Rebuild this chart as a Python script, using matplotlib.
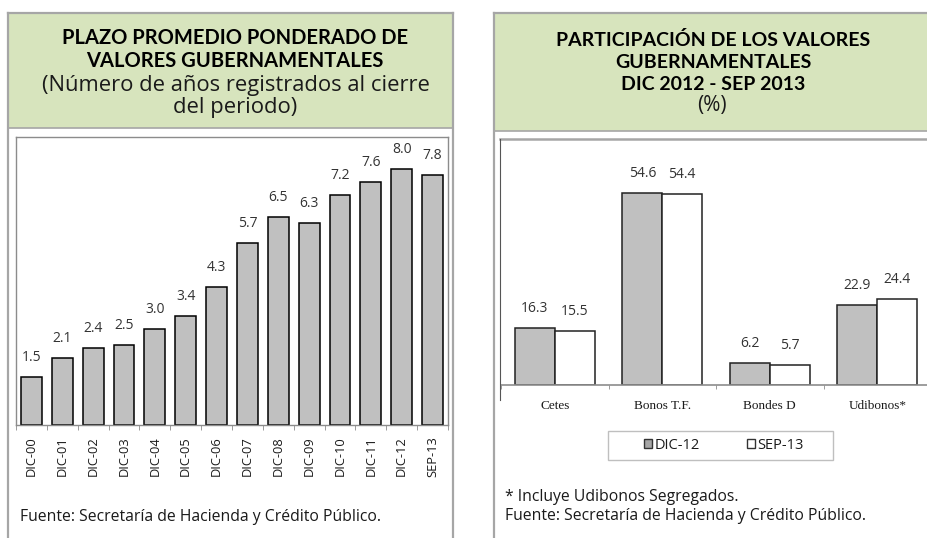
import matplotlib
matplotlib.use("Agg")
import matplotlib.pyplot as plt
from matplotlib.lines import Line2D
from matplotlib.patches import Rectangle, Patch
import numpy as np

# ---------------- data ----------------
periods = ["DIC-00", "DIC-01", "DIC-02", "DIC-03", "DIC-04", "DIC-05", "DIC-06",
           "DIC-07", "DIC-08", "DIC-09", "DIC-10", "DIC-11", "DIC-12", "SEP-13"]
plazo = [1.5, 2.1, 2.4, 2.5, 3.0, 3.4, 4.3, 5.7, 6.5, 6.3, 7.2, 7.6, 8.0, 7.8]

instrumentos = ["Cetes", "Bonos T.F.", "Bondes D", "Udibonos*"]
dic12 = [16.3, 54.6, 6.2, 22.9]
sep13 = [15.5, 54.4, 5.7, 24.4]
series_names = ["DIC-12", "SEP-13"]

# ---------------- figure ----------------
W, H = 927, 538
fig = plt.figure(figsize=(W / 100, H / 100), dpi=100)
fig.patch.set_facecolor("white")

def X(px):
    return px / W

def Y(py):
    return 1 - py / H

GREEN = "#D7E4BD"
BORDER = "#A6A6A6"
FRAME = "#8C8C8C"
TXT = "#1a1a1a"
BOLD = ["Lato", "DejaVu Sans"]
SANS = ["Open Sans", "DejaVu Sans"]

def hline(x0, x1, y, color=BORDER, lw=1.6):
    fig.add_artist(Line2D([X(x0), X(x1)], [Y(y), Y(y)], color=color, lw=lw,
                          transform=fig.transFigure))

def vline(x, y0, y1, color=BORDER, lw=1.6):
    fig.add_artist(Line2D([X(x), X(x)], [Y(y0), Y(y1)], color=color, lw=lw,
                          transform=fig.transFigure))

# headers
fig.add_artist(Rectangle((X(8), Y(128)), X(453) - X(8), Y(13) - Y(128),
                         transform=fig.transFigure, facecolor=GREEN, edgecolor="none"))
fig.add_artist(Rectangle((X(494), Y(131)), X(930) - X(494), Y(13) - Y(131),
                         transform=fig.transFigure, facecolor=GREEN, edgecolor="none"))

# left panel borders
hline(8, 453, 13)
hline(8, 453, 128, lw=1.2)
vline(8, 13, 540)
vline(453, 13, 540)
# right panel borders
hline(494, 930, 13)
hline(494, 930, 131, lw=1.2)
vline(494, 13, 540)
# right inner frame
hline(500, 930, 139, color=BORDER, lw=1.8)
vline(500, 139, 400, color="#555555", lw=0.8)

# header texts
fig.text(X(235), Y(38), "PLAZO PROMEDIO PONDERADO DE", ha="center", va="center",
         fontsize=14.5, fontweight="bold", family=BOLD, color="black")
fig.text(X(235), Y(61), "VALORES GUBERNAMENTALES", ha="center", va="center",
         fontsize=14.5, fontweight="bold", family=BOLD, color="black")
fig.text(X(236), Y(85), "(Número de años registrados al cierre", ha="center", va="center",
         fontsize=15.8, family=SANS, color=TXT)
fig.text(X(235), Y(108), "del periodo)", ha="center", va="center",
         fontsize=15.8, family=SANS, color=TXT)

fig.text(X(713), Y(40), "PARTICIPACIÓN DE LOS VALORES", ha="center", va="center",
         fontsize=14, fontweight="bold", family=BOLD, color="black")
fig.text(X(713), Y(62), "GUBERNAMENTALES", ha="center", va="center",
         fontsize=14, fontweight="bold", family=BOLD, color="black")
fig.text(X(713), Y(84), "DIC 2012 - SEP 2013", ha="center", va="center",
         fontsize=14, fontweight="bold", family=BOLD, color="black")
fig.text(X(712), Y(106), "(%)", ha="center", va="center",
         fontsize=15, family=SANS, color=TXT)

# ---------------- left chart ----------------
ax1 = fig.add_axes([X(16), Y(425), X(448) - X(16), Y(137) - Y(425)])
xpos = np.arange(len(periods))
bars = ax1.bar(xpos, plazo, width=0.68, color="#C0C0C0", edgecolor="black", linewidth=1.1)
ax1.set_xlim(-0.5, len(periods) - 0.5)
ax1.set_ylim(0, 9)
ax1.set_yticks([])
for s in ["top", "left", "right", "bottom"]:
    ax1.spines[s].set_color(FRAME)
    ax1.spines[s].set_linewidth(1.0)
ax1.set_xticks(xpos)
ax1.set_xticklabels(periods, rotation=90, fontsize=9.3, family=SANS, color=TXT)
ax1.tick_params(axis="x", which="major", length=0, pad=8)
ax1.set_xticks(np.arange(-0.5, len(periods), 1), minor=True)
ax1.tick_params(axis="x", which="minor", length=3.5, color=FRAME, direction="out")
for b, v in zip(bars, plazo):
    ax1.annotate(f"{v:.1f}", (b.get_x() + b.get_width() / 2, v), xytext=(0, 14),
                 textcoords="offset points", ha="center", va="center",
                 fontsize=10, family=SANS, color="#333333")

fig.text(X(20), Y(517), "Fuente: Secretaría de Hacienda y Crédito Público.",
         ha="left", va="center", fontsize=11.3, family=SANS, color=TXT)

# ---------------- right chart ----------------
ax2 = fig.add_axes([X(501), Y(385), X(931) - X(501), Y(139) - Y(385)])
cpos = np.arange(len(instrumentos))
bw = 0.372
b1 = ax2.bar(cpos - bw / 2, dic12, width=bw, color="#C0C0C0", edgecolor="#222222", linewidth=1.1)
b2 = ax2.bar(cpos + bw / 2, sep13, width=bw, color="white", edgecolor="#222222", linewidth=1.1)
ax2.set_xlim(-0.5, len(instrumentos) - 0.5)
ax2.set_ylim(0, 70)
ax2.set_yticks([])
for s in ["top", "left", "right"]:
    ax2.spines[s].set_visible(False)
ax2.spines["bottom"].set_color(FRAME)
ax2.spines["bottom"].set_linewidth(1.2)
ax2.set_xticks(cpos)
ax2.set_xticklabels(instrumentos, fontsize=9.5, family=["Liberation Serif", "DejaVu Serif"],
                    color=TXT)
ax2.tick_params(axis="x", which="major", length=0, pad=11)
ax2.set_xticks(np.arange(-0.5, len(instrumentos), 1), minor=True)
ax2.tick_params(axis="x", which="minor", length=3, color=FRAME, direction="out")
for bs, vals in ((b1, dic12), (b2, sep13)):
    for b, v in zip(bs, vals):
        ax2.annotate(f"{v:.1f}", (b.get_x() + b.get_width() / 2, v), xytext=(0, 14),
                     textcoords="offset points", ha="center", va="center",
                     fontsize=10, family=SANS, color="#333333")

# legend
fig.add_artist(Rectangle((X(608), Y(460)), X(833) - X(608), Y(431) - Y(460),
                         transform=fig.transFigure, facecolor="white",
                         edgecolor="#BFBFBF", lw=1.0))
handles = [Patch(facecolor="#A6A6A6", edgecolor="#333333", lw=1.0),
           Patch(facecolor="white", edgecolor="#333333", lw=1.0)]
fig.legend(handles, series_names, loc="center", bbox_to_anchor=(X(724), Y(445.5)),
           ncol=2, frameon=False, handlelength=0.55, handleheight=0.55,
           handletextpad=0.2, columnspacing=3.2,
           prop={"family": SANS, "size": 10.5}, labelcolor=TXT)

fig.text(X(505), Y(497), "* Incluye Udibonos Segregados.", ha="left", va="center",
         fontsize=11.3, family=SANS, color=TXT)
fig.text(X(505), Y(516), "Fuente: Secretaría de Hacienda y Crédito Público.", ha="left",
         va="center", fontsize=11.3, family=SANS, color=TXT)

fig.savefig("out.png", dpi=100, facecolor="white")
